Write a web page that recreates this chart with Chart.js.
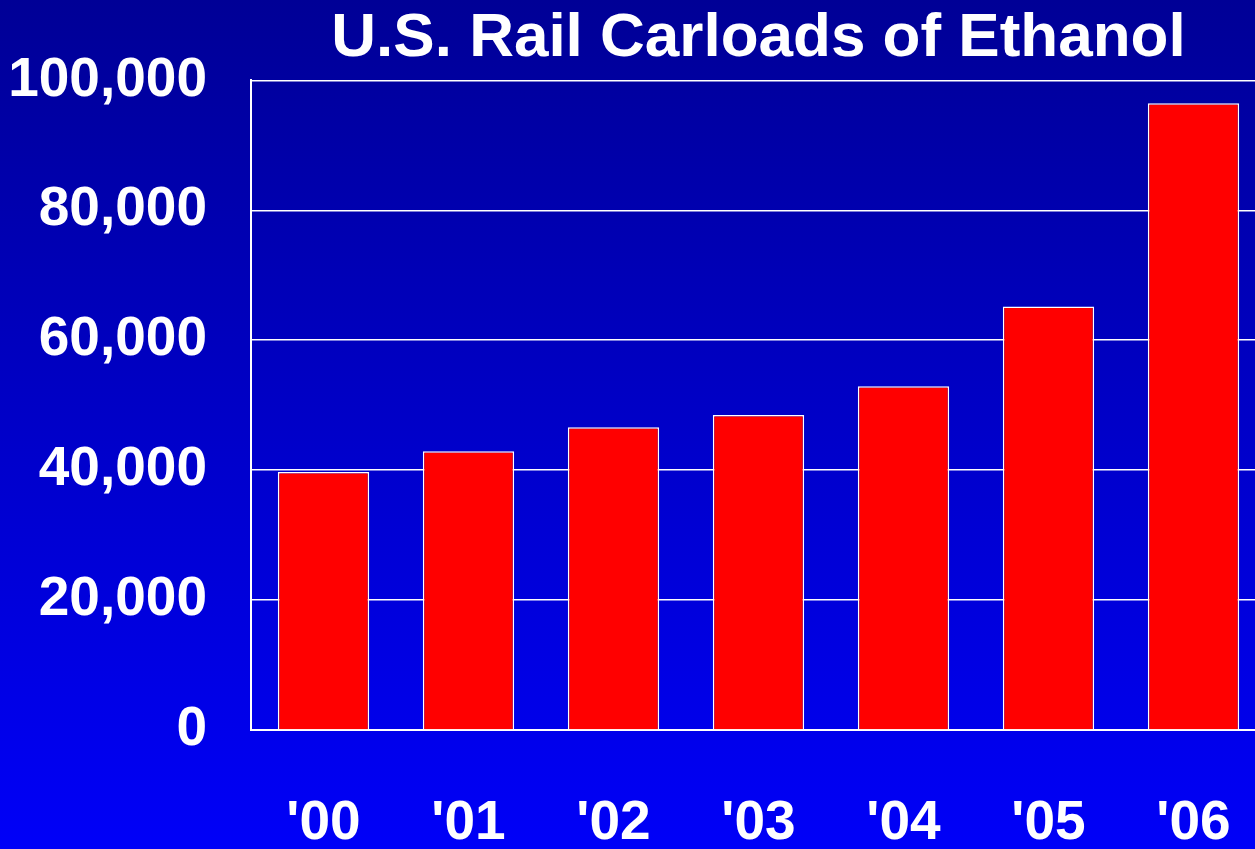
<!DOCTYPE html>
<html>
<head>
<meta charset="utf-8">
<script src="https://cdn.jsdelivr.net/npm/chart.js@4.4.1/dist/chart.umd.min.js"></script>
<style>
  html, body { margin: 0; padding: 0; overflow: hidden; }
  #wrap {
    width: 1255px; height: 849px; overflow: hidden;
    background: linear-gradient(to bottom, #000096 0%, #0000c8 50%, #0000f8 100%);
  }
  canvas { display: block; }
</style>
</head>
<body>
<div id="wrap"><canvas id="rail_chart" width="1280" height="849"></canvas></div>
<script>
var years = ["'00", "'01", "'02", "'03", "'04", "'05", "'06"];
var carloads = [39700, 42900, 46600, 48500, 52900, 65200, 96500];
var yTicks = [0, 20000, 40000, 60000, 80000, 100000];

var labelFont = { family: "'Liberation Sans', Arial, sans-serif", size: 55, weight: 'bold' };

var ctx = document.getElementById('rail_chart').getContext('2d');
var chart = new Chart(ctx, {
  type: 'bar',
  data: {
    labels: years,
    datasets: [{
      label: 'Carloads',
      data: carloads,
      backgroundColor: '#ff0000',
      borderColor: '#ffffff',
      borderWidth: 1.5,
      barPercentage: 0.63,
      categoryPercentage: 1.0
    }]
  },
  options: {
    responsive: false,
    animation: false,
    devicePixelRatio: 1,
    layout: { padding: { left: 0, right: 14, top: 0, bottom: 0 } },
    plugins: {
      legend: { display: false },
      tooltip: { enabled: false },
      title: {
        display: true,
        fullSize: false,
        text: 'U.S. Rail Carloads of Ethanol',
        color: '#ffffff',
        font: { family: "'Liberation Sans', Arial, sans-serif", size: 62, weight: 'bold', lineHeight: 1.2 },
        padding: { top: 2, bottom: 4 }
      }
    },
    scales: {
      x: {
        grid: { display: true, drawOnChartArea: false, drawTicks: true, tickLength: 61, tickColor: 'rgba(0,0,0,0)', color: 'rgba(0,0,0,0)' },
        border: { display: true, color: '#ffffff', width: 2 },
        ticks: { color: '#ffffff', font: labelFont, padding: 0 },
        afterFit: function(s) { s.height = 119; }
      },
      y: {
        min: 0,
        max: 100000,
        afterBuildTicks: function(s) { s.ticks = yTicks.map(function(v) { return { value: v }; }); },
        grid: { color: '#ffffff', lineWidth: 1.5, drawTicks: false },
        border: { display: true, color: '#ffffff', width: 2 },
        ticks: {
          color: '#ffffff',
          font: labelFont,
          padding: 44,
          callback: function(v) { return v.toLocaleString('en-US'); }
        },
        afterFit: function(s) { s.width = 251; }
      }
    }
  }
});
</script>
</body>
</html>
